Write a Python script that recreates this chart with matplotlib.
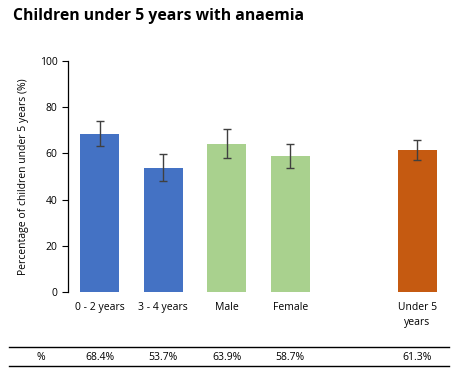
import numpy as np
import matplotlib
import matplotlib.pyplot as plt

matplotlib.use('Agg')
plt.rcParams['font.family'] = ['Open Sans', 'DejaVu Sans']

categories = ['0 - 2 years', '3 - 4 years', 'Male', 'Female', '', 'Under 5\nyears']
values = [68.4, 53.7, 63.9, 58.7, np.nan, 61.3]
err_low = [5.0, 5.7, 6.0, 5.2, np.nan, 4.3]
err_high = [5.5, 6.0, 6.5, 5.4, np.nan, 4.4]
table_labels = ['68.4%', '53.7%', '63.9%', '58.7%', '', '61.3%']
colors = ['#4472C4', '#4472C4', '#A9D18E', '#A9D18E', 'white', '#C55A11']

fig = plt.figure(figsize=(4.61, 3.75), dpi=100)
ax = fig.add_axes([68 / 461, 1 - 292 / 375, 381 / 461, 231 / 375])

x = np.arange(len(categories))
ax.bar(x, values, width=0.62, color=colors)
ax.errorbar(x, values, yerr=[err_low, err_high], fmt='none', ecolor='#404040',
            elinewidth=1, capsize=3, capthick=1)

ax.set_xlim(-0.5, len(categories) - 0.5)
ax.set_ylim(0, 100)
ax.set_yticks(range(0, 101, 20))
ax.tick_params(axis='y', labelsize=7.5, length=4, direction='out', width=0.8)
ax.tick_params(axis='x', length=0, labelsize=7.5, pad=7)
ax.set_xticks(x)
ax.set_xticklabels(categories, linespacing=1.5, va='top')
for side in ['top', 'right', 'bottom']:
    ax.spines[side].set_visible(False)
ax.spines['left'].set_linewidth(0.9)
ax.set_ylabel('Percentage of children under 5 years (%)', fontsize=7.5, labelpad=8)

fig.text(13 / 461, 1 - 16 / 375, 'Children under 5 years with anaemia',
         fontsize=11.3, fontweight='bold', va='center', ha='left')

# table below chart
fig.add_artist(plt.Line2D([9 / 461, 449 / 461], [1 - 347 / 375, 1 - 347 / 375],
                          color='black', linewidth=1))
fig.add_artist(plt.Line2D([9 / 461, 449 / 461], [1 - 366 / 375, 1 - 366 / 375],
                          color='black', linewidth=1))
fig.text(41 / 461, 1 - 357 / 375, '%', fontsize=7.5, ha='center', va='center')
for i, lab in enumerate(table_labels):
    xf = (68 + (i + 0.5) * 381 / len(categories)) / 461
    fig.text(xf, 1 - 357 / 375, lab, fontsize=7.5, ha='center', va='center')

fig.savefig('out.png', dpi=100)
